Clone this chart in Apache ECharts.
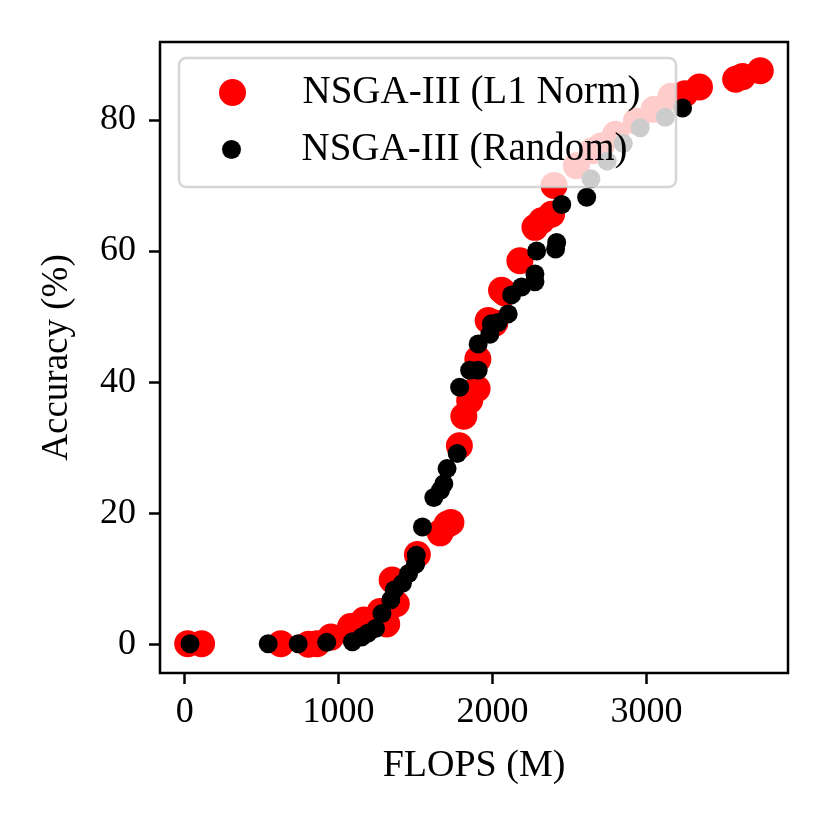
<!DOCTYPE html>
<html>
<head>
<meta charset="utf-8">
<script src="https://cdn.jsdelivr.net/npm/echarts@6/dist/echarts.min.js"></script>
<style>
  html, body { margin: 0; padding: 0; background: #fff; }
  #chart { width: 830px; height: 830px; }
</style>
</head>
<body>
<div id="chart"></div>
<script>
// FLOPS (M), Accuracy (%)
const l1Flops = [20, 110, 625, 805, 860, 950, 1078, 1165, 1270, 1313, 1375, 1348, 1512, 1660, 1705, 1730,
    1785, 1814, 1852, 1900, 1905, 1972, 2015, 2059, 2080, 2178, 2276, 2319, 2384, 2400, 2545, 2650,
    2705, 2800, 2935, 3050, 3160, 3250, 3345, 3580, 3625, 3740];
const l1Acc = [0.1, 0.1, 0.1, 0.0, 0.1, 1.1, 2.7, 3.7, 5.0, 3.1, 6.2, 9.8, 13.7, 17.0, 18.3, 18.6,
    30.3, 34.8, 37.2, 39.0, 43.5, 49.4, 49.0, 54.0, 53.6, 58.5, 63.6, 64.6, 65.6, 70.0, 73.0, 75.3,
    76.0, 77.8, 79.8, 81.6, 83.6, 84.0, 85.0, 86.2, 86.6, 87.5];

const randFlops = [35, 543, 738, 923, 1090, 1150, 1190, 1240, 1282, 1340, 1362, 1415, 1455, 1500, 1505,
    1545, 1619, 1662, 1684, 1705, 1771, 1787, 1852, 1907, 1907, 1983, 1993, 2037, 2102, 2124, 2189,
    2276, 2276, 2287, 2410, 2417, 2450, 2612, 2640, 2745, 2850, 2960, 3123, 3235];
const randAcc = [0.1, 0.1, 0.1, 0.3, 0.4, 1.1, 1.7, 2.4, 4.7, 6.8, 8.3, 9.3, 10.8, 12.2, 13.6,
    17.9, 22.4, 23.5, 24.5, 26.8, 29.1, 39.2, 41.8, 41.8, 45.8, 47.3, 48.9, 49.1, 50.4, 53.3, 54.5,
    55.3, 56.5, 60.0, 60.3, 61.3, 67.1, 68.2, 71.0, 73.7, 76.4, 78.8, 80.4, 81.8];

const xTicks = [0, 1000, 2000, 3000];
const yTicks = [0, 20, 40, 60, 80];
const seriesNames = ['NSGA-III (L1 Norm)', 'NSGA-III (Random)'];

const FONT = 'Liberation Serif';

function pairs(xs, ys) {
    return xs.map((x, i) => [x, ys[i]]);
}

const chart = echarts.init(document.getElementById('chart'));

const legendBase = {
    orient: 'vertical',
    padding: 0,
    itemWidth: 130,
    textStyle: { fontFamily: FONT, fontSize: 39, color: '#000' }
};

const option = {
    animation: false,
    backgroundColor: '#fff',
    grid: {
        left: 160, top: 42, width: 628, height: 631,
        show: true, borderColor: '#000', borderWidth: 2.5, backgroundColor: 'transparent'
    },
    xAxis: {
        type: 'value',
        min: -160,
        max: 3920,
        name: 'FLOPS (M)',
        nameLocation: 'middle',
        nameGap: 74,
        nameTextStyle: { fontFamily: FONT, fontSize: 38, color: '#000' },
        axisLine: { show: false, onZero: false },
        splitLine: { show: false },
        axisTick: { show: true, length: 11, lineStyle: { color: '#000', width: 2.5 }, customValues: xTicks },
        axisLabel: {
            fontFamily: FONT, fontSize: 36, color: '#000', margin: 22, customValues: xTicks,
            formatter: v => String(v)
        }
    },
    yAxis: {
        type: 'value',
        min: -4.375,
        max: 91.875,
        name: 'Accuracy (%)',
        nameLocation: 'middle',
        nameGap: 84,
        nameTextStyle: { fontFamily: FONT, fontSize: 37, color: '#000' },
        axisLine: { show: false, onZero: false },
        splitLine: { show: false },
        axisTick: { show: true, length: 11, lineStyle: { color: '#000', width: 2.5 }, customValues: yTicks },
        axisLabel: {
            fontFamily: FONT, fontSize: 36, color: '#000', margin: 24, customValues: yTicks,
            formatter: v => String(v)
        }
    },
    graphic: {
        elements: [{
            type: 'rect',
            z: 3,
            shape: { x: 179, y: 58, width: 497, height: 129, r: 7 },
            style: { fill: 'rgba(255,255,255,0.8)', stroke: 'rgba(204,204,204,0.8)', lineWidth: 2.5 }
        }]
    },
    legend: [
        Object.assign({}, legendBase, { left: 219, top: 73, itemHeight: 27, data: [seriesNames[0]] }),
        Object.assign({}, legendBase, { left: 222, top: 130, itemHeight: 19, data: [seriesNames[1]] })
    ],
    series: [
        {
            name: seriesNames[0],
            type: 'scatter',
            symbol: 'circle',
            symbolSize: 27,
            itemStyle: { color: '#ff0000', opacity: 1 },
            data: pairs(l1Flops, l1Acc)
        },
        {
            name: seriesNames[1],
            type: 'scatter',
            symbol: 'circle',
            symbolSize: 19,
            itemStyle: { color: '#000000', opacity: 1 },
            data: pairs(randFlops, randAcc)
        }
    ]
};

chart.setOption(option);
</script>
</body>
</html>
